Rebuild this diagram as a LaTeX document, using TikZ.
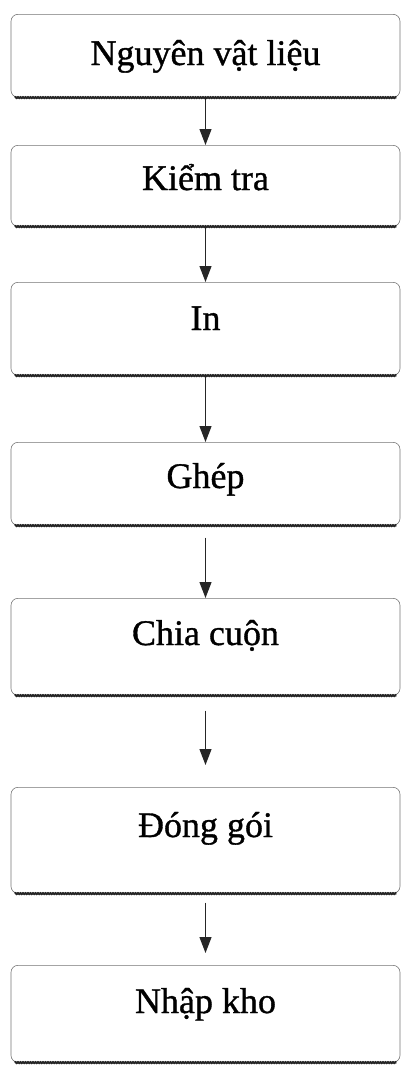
\documentclass[tikz,border=0pt]{standalone}
\usepackage{fontspec}
\setmainfont{Liberation Serif}[FakeBold=1]
\usetikzlibrary{arrows.meta,decorations.pathmorphing}
\begin{document}
\begin{tikzpicture}[x=1pt,y=-1pt,
  stepbox/.style={draw=black!55, line width=0.6pt, rounded corners=7pt,
    minimum width=389pt, inner sep=0pt, anchor=north},
  lbl/.style={font=\fontsize{36}{40}\selectfont, inner sep=0pt, anchor=base},
  shadowline/.style={line width=2pt, black!85, decorate,
    decoration={snake, amplitude=0.5pt, segment length=2.5pt}},
  flow/.style={line width=1.2pt, black!85, -{Triangle[length=16pt,width=12pt]}}]
\useasboundingbox (0,0) rectangle (402,1066);
\node[stepbox, minimum height=83pt]  (b1) at (205.5,14)  {};
\node[stepbox, minimum height=81pt]  (b2) at (205.5,145) {};
\node[stepbox, minimum height=93pt]  (b3) at (205.5,282) {};
\node[stepbox, minimum height=83pt]  (b4) at (205.5,442) {};
\node[stepbox, minimum height=97pt]  (b5) at (205.5,598) {};
\node[stepbox, minimum height=106pt] (b6) at (205.5,787) {};
\node[stepbox, minimum height=97pt]  (b7) at (205.5,965) {};
\node[lbl] (t1) at ([yshift=-51pt]b1.north) {Nguyên vật liệu};
\node[lbl] (t2) at ([yshift=-45pt]b2.north) {Kiểm tra};
\node[lbl] (t3) at ([yshift=-48pt]b3.north) {In};
\node[lbl] (t4) at ([yshift=-46pt]b4.north) {Ghép};
\node[lbl] (t5) at ([yshift=-47pt]b5.north) {Chia cuộn};
\node[lbl] (t6) at ([yshift=-50pt]b6.north) {Đóng gói};
\node[lbl] (t7) at ([yshift=-48pt]b7.north) {Nhập kho};
\foreach \b in {b1,b2,b3,b4,b5,b6,b7}
  \draw[shadowline] ([xshift=4pt]\b.south west) -- ([xshift=-4pt]\b.south east);
\draw[flow] (b1.south) -- (b2.north);
\draw[flow] (b2.south) -- (b3.north);
\draw[flow] (b3.south) -- (b4.north);
\draw[flow] ([yshift=-12pt]b4.south) -- (b5.north);
\draw[flow] ([yshift=-15pt]b5.south) -- ([yshift=22pt]b6.north);
\draw[flow] ([yshift=-9pt]b6.south) -- ([yshift=12pt]b7.north);
\end{tikzpicture}
\end{document}
